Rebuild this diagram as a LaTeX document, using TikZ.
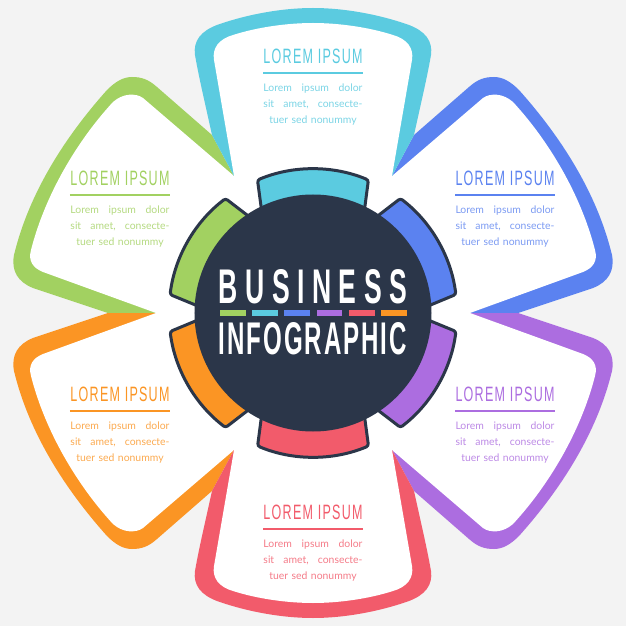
\documentclass[tikz,border=0pt]{standalone}
\usepackage{fontspec}
\usepackage{graphicx}
\usetikzlibrary{positioning}
\newfontfamily\headfont{Liberation Sans}[LetterSpace=10]
\newfontfamily\widefont{Liberation Sans Bold}[LetterSpace=28]
\newfontfamily\narrowfont{Liberation Sans Bold}[LetterSpace=8]
\newfontfamily\bodyfont{Lato}
\definecolor{pagegrey}{HTML}{F3F3F3}
\definecolor{darkblue}{HTML}{2B3649}
\definecolor{petalgreen}{HTML}{A2D161}
\definecolor{petalcyan}{HTML}{5BCBE0}
\definecolor{petalblue}{HTML}{5B82F0}
\definecolor{petalpurple}{HTML}{AC6DE0}
\definecolor{petalred}{HTML}{F25B6B}
\definecolor{petalorange}{HTML}{FB9524}
\tikzset{
  ringpart/.style={fill=#1,draw=darkblue,line width=3pt,rounded corners=2.5pt},
  headlabel/.style={text=white,inner sep=0pt,font=\fontsize{48}{48}\selectfont},
  petaltitle/.style={inner sep=0pt,text=#1,font=\headfont\fontsize{22}{22}\selectfont},
  petalbody/.style={inner sep=0pt,text=#1!80,align=center,text width=100pt,font=\bodyfont\fontsize{10.4}{16}\selectfont},
}
% one of the four slanted petals, seen in its upper left place
\newcommand{\sidepetal}[3]{
\begin{scope}[xscale=#1,yscale=#2]
\fill[#3] (-79,137) -- (-101,178) -- (-156,226) .. controls (-165,234) and (-172,236) .. (-181,236)
  .. controls (-190,236) and (-198,231) .. (-206,223) .. controls (-248,176) and (-284,120) .. (-299,58)
  .. controls (-302,42) and (-295,31) .. (-280,25) -- (-205,0) -- (-157,0) -- cycle;
\fill[white] (0,0) -- (-79,137) -- (-170,215) .. controls (-177,220) and (-190,220) .. (-200,211)
  .. controls (-236,172) and (-268,118) .. (-282,63)
  .. controls (-285,52) and (-280,45) .. (-270,41) -- (-157,0) -- cycle;
\end{scope}
}
% the upright petal, top or bottom
\newcommand{\uprightpetal}[2]{
\begin{scope}[yscale=#1]
\fill[#2] (-79,137) -- (-101,178) .. controls (-108,210) and (-114,235) .. (-118,258) .. controls (-120,272) and (-112,282) .. (-96,288)
  .. controls (-65,299) and (-30,305) .. (0,305) .. controls (30,305) and (65,299) .. (96,288)
  .. controls (112,282) and (120,272) .. (118,258) .. controls (114,235) and (108,210) .. (101,178) -- (79,137) -- cycle;
\fill[white] (0,0) -- (-79,137) -- (-99,253) .. controls (-101,265) and (-94,274) .. (-80,278)
  .. controls (-55,286) and (-25,290) .. (0,290) .. controls (25,290) and (55,286) .. (80,278)
  .. controls (94,274) and (101,265) .. (99,253) -- (79,137) -- cycle;
\end{scope}
}
% name, centre x of the text, y of the title, colour
\newcommand{\petaltext}[4]{
\node[petaltitle=#4] (#1title) at (#2,#3) {\resizebox{99pt}{14.5pt}{LOREM IPSUM}};
\coordinate (#1ruleA) at (#2-50,#3-17);
\coordinate (#1ruleB) at (#2+50,#3-17);
\draw[#4,line width=1.8pt] (#1ruleA) -- (#1ruleB);
\node[petalbody=#4,anchor=north] (#1body) at (#2,#3-28) {\makebox[99pt]{Lorem\hfill ipsum\hfill dolor}\\\makebox[99pt]{sit\hfill amet,\hfill consecte-}\\tuer sed nonummy};
}

\begin{document}
\begin{tikzpicture}[x=1pt,y=1pt]
\useasboundingbox (-313,-313) rectangle (313,313);
\fill[pagegrey] (-313,-313) rectangle (313,313);
\fill[white] (-79,137) -- (79,137) -- (157,0) -- (79,-137) -- (-79,-137) -- (-157,0) -- cycle;

\sidepetal{1}{1}{petalgreen}
\sidepetal{-1}{1}{petalblue}
\sidepetal{1}{-1}{petalorange}
\sidepetal{-1}{-1}{petalpurple}
\uprightpetal{1}{petalcyan}
\uprightpetal{-1}{petalred}

\petaltext{cyan}{0}{257}{petalcyan}
\petaltext{green}{-193}{135}{petalgreen}
\petaltext{blue}{192}{135}{petalblue}
\petaltext{orange}{-193}{-81}{petalorange}
\petaltext{purple}{192}{-81}{petalpurple}
\petaltext{red}{0}{-199}{petalred}

% ring around the centre
\foreach \col/\ang in {petalcyan/0,petalgreen/60,petalorange/120,petalred/180,petalpurple/240,petalblue/300}{
\draw[ringpart=\col,rotate=\ang] (-50,92) -- (-55.5,133) arc[start angle=112.65,end angle=67.35,radius=144pt] -- (50,92) -- cycle;
}
\fill[darkblue] (0,0) circle (118.5pt);

\node[headlabel] (business) at (0,26) {\widefont\resizebox{188pt}{34pt}{BUSINESS}};
\node[headlabel] (infographic) at (0,-26) {\narrowfont\resizebox{188pt}{32pt}{INFOGRAPHIC}};

\foreach \col [count=\i from 0] in {petalgreen,petalcyan,petalblue,petalpurple,petalred,petalorange}{
\fill[\col] (-93+\i*32.2,-2.5) rectangle ++(25.7,5);
}
\end{tikzpicture}
\end{document}
